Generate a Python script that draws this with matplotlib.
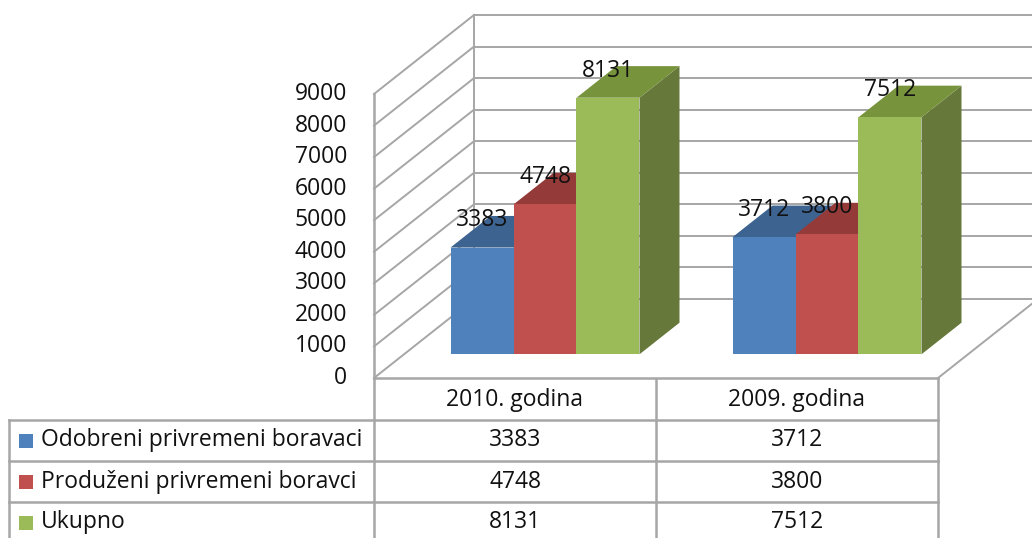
import matplotlib
matplotlib.use("Agg")
import matplotlib.pyplot as plt
from matplotlib.patches import Polygon, Rectangle
from matplotlib.transforms import Affine2D

# data
categories = ["2010. godina", "2009. godina"]
series_names = ["Odobreni privremeni boravaci", "Produženi privremeni boravci", "Ukupno"]
odobreni = [3383, 3712]
produzeni = [4748, 3800]
ukupno = [8131, 7512]
series_values = [odobreni, produzeni, ukupno]
y_ticks = [0, 1000, 2000, 3000, 4000, 5000, 6000, 7000, 8000, 9000]

front_colors = ["#4F81BD", "#C0504D", "#9BBB59"]
top_colors = ["#3D6391", "#943B3A", "#77933C"]
side_colors = ["#34557D", "#7E3231", "#66793A"]

W, H = 1032, 538
GRID = "#A6A6A6"
TXT = "#111111"
FONT = "Open Sans"
FS = 16.5

# pixel layout of the plot (front plane)
X0_PX, CAT_PX = 374, 282          # left of front plane, width of one category
Y0_PX, YMAX_PX = 378, 94          # pixel rows of 0 and 9000 on the front axis
DEPTH_PX = (100, 79)              # oblique depth offset (right, up)

px_per_val = (Y0_PX - YMAX_PX) / 9000.0
DX = DEPTH_PX[0] / CAT_PX
DY = DEPTH_PX[1] / px_per_val

fig = plt.figure(figsize=(W / 100, H / 100), dpi=100)
ax = fig.add_axes([0, 0, 1, 1])
ax.set_xlim(-X0_PX / CAT_PX, (W - X0_PX) / CAT_PX)
ax.set_ylim(-(H - Y0_PX) / px_per_val, Y0_PX / px_per_val)
ax.axis("off")

# pixel transform for the data table (origin top-left)
pix = Affine2D().scale(1.0 / W, -1.0 / H).translate(0, 1) + fig.transFigure

ncat = len(categories)
ymax = y_ticks[-1]

# back wall gridlines and left wall diagonals
for v in y_ticks:
    ax.plot([DX, ncat + DX + 0.5], [v + DY, v + DY], color=GRID, lw=1.4, zorder=1)
    ax.plot([0, DX], [v, v + DY], color=GRID, lw=1.4, zorder=1)
    ax.text(-27 / CAT_PX, v, str(v), ha="right", va="center", fontsize=FS,
            family=FONT, color=TXT)
ax.plot([DX, DX], [DY, ymax + DY], color=GRID, lw=1.4, zorder=1)
# floor
ax.plot([0, ncat], [0, 0], color=GRID, lw=1.8, zorder=1)
ax.plot([ncat, ncat + DX], [0, DY], color=GRID, lw=1.4, zorder=1)
# front vertical axis
ax.plot([0, 0], [0, ymax], color=GRID, lw=1.8, zorder=1)

# bars
bar_w = 0.2234
gap = (1 - bar_w * len(series_values)) / 2
d0, d1 = 0.3, 0.7
z = 3
for i in range(ncat):
    for k, vals in enumerate(series_values):
        v = vals[i]
        x0 = i + gap + k * bar_w
        x1 = x0 + bar_w
        side = [(x1 + d0 * DX, d0 * DY), (x1 + d1 * DX, d1 * DY),
                (x1 + d1 * DX, v + d1 * DY), (x1 + d0 * DX, v + d0 * DY)]
        top = [(x0 + d0 * DX, v + d0 * DY), (x1 + d0 * DX, v + d0 * DY),
               (x1 + d1 * DX, v + d1 * DY), (x0 + d1 * DX, v + d1 * DY)]
        ax.add_patch(Polygon(side, closed=True, facecolor=side_colors[k],
                             edgecolor="none", zorder=z))
        ax.add_patch(Polygon(top, closed=True, facecolor=top_colors[k],
                             edgecolor="none", zorder=z))
        ax.add_patch(Rectangle((x0 + d0 * DX, d0 * DY), bar_w, v,
                               facecolor=front_colors[k], edgecolor="none", zorder=z))
        z += 1
    for k, vals in enumerate(series_values):
        v = vals[i]
        xc = i + gap + (k + 0.5) * bar_w + d0 * DX
        ax.annotate(str(v), (xc, v + d0 * DY), xytext=(0, 19.5),
                    textcoords="offset points", ha="center", va="center",
                    fontsize=FS, family=FONT, color=TXT, zorder=20)

# data table
col_x = [9, X0_PX, X0_PX + CAT_PX, X0_PX + 2 * CAT_PX]
row_y = [Y0_PX + 1, 420, 461, 502, 543]
lkw = dict(color=GRID, lw=1.8, transform=pix, clip_on=False)
ax.plot([col_x[1], col_x[3]], [row_y[1]] * 2, **lkw)
for y in row_y[2:4]:
    ax.plot([col_x[0], col_x[3]], [y, y], **lkw)
ax.plot([col_x[0], col_x[1]], [row_y[1]] * 2, **lkw)
ax.plot([col_x[0], col_x[0]], [row_y[1], H], **lkw)
for x in col_x[1:]:
    ax.plot([x, x], [row_y[0], H], **lkw)

for j, cat in enumerate(categories):
    cx = (col_x[j + 1] + col_x[j + 2]) / 2
    ax.text(cx, (row_y[0] + row_y[1]) / 2, cat, transform=pix, ha="center",
            va="center", fontsize=FS, family=FONT, color=TXT)
for k, name in enumerate(series_names):
    cy = (row_y[k + 1] + row_y[k + 2]) / 2
    ax.add_patch(Rectangle((19, cy - 7), 14, 14, facecolor=front_colors[k],
                           edgecolor="none", transform=pix, clip_on=False))
    ax.text(41, cy, name, transform=pix, ha="left", va="center",
            fontsize=FS, family=FONT, color=TXT)
    for j in range(ncat):
        cx = (col_x[j + 1] + col_x[j + 2]) / 2
        ax.text(cx, cy, str(series_values[k][j]), transform=pix, ha="center",
                va="center", fontsize=FS, family=FONT, color=TXT)

fig.savefig("out.png", dpi=100)
